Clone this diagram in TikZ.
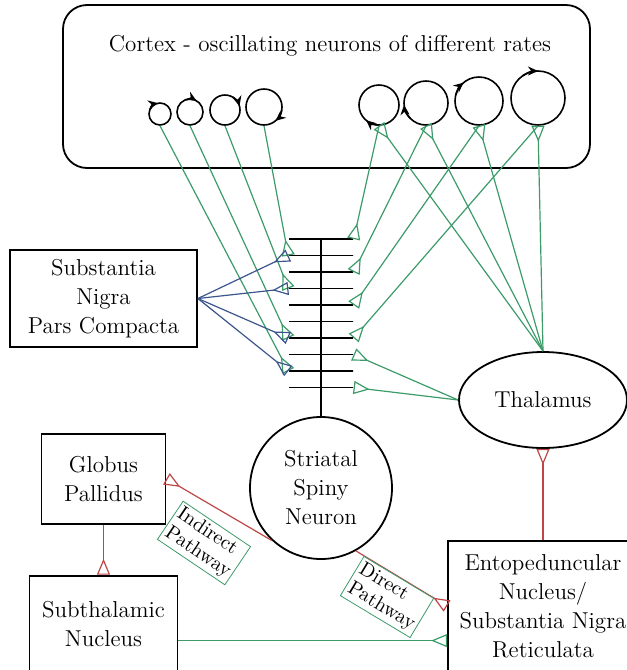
\documentclass[tikz,border=0pt]{standalone}
\usetikzlibrary{shapes.geometric,arrows.meta,positioning}
\definecolor{excgreen}{RGB}{60,155,105}
\definecolor{dopblue}{RGB}{60,85,140}
\definecolor{inhred}{RGB}{190,70,70}

\begin{document}
\begin{tikzpicture}[
    x=0.5pt, y=-0.5pt,
    every node/.style={font=\fontsize{11.5}{14.5}\selectfont},
    box/.style={rectangle, draw, line width=0.9pt, align=center, inner sep=0pt},
    osc/.style={circle, draw, line width=0.8pt, inner sep=0pt},
    bar/.style={rectangle, draw, line width=0.7pt, minimum width=32pt, minimum height=0pt, inner sep=0pt},
    phase/.style={-{Stealth[length=5pt, width=4.5pt]}, line width=0.8pt},
    excite/.style={-{Triangle[open, reversed, length=8pt, width=6.5pt]}, excgreen, line width=0.6pt},
    dopa/.style={-{Triangle[open, reversed, length=8pt, width=6.5pt]}, dopblue, line width=0.6pt},
    inhib/.style={-{Triangle[open, reversed, length=8pt, width=6.5pt]}, inhred, line width=0.6pt},
    tag/.style={draw=excgreen, line width=0.4pt, fill=white, align=left, inner sep=1.5pt, font=\fontsize{10}{11}\selectfont}
]
    \useasboundingbox (0,0) rectangle (627,670);
    \clip (0,0) rectangle (627,670);

    % Cortex
    \node[box, rounded corners=12pt, minimum width=263.5pt, minimum height=81.5pt] (cortex) at (326.5,86.5) {};
    \node (title) at (330,46) {Cortex - oscillating neurons of different rates};

    % Oscillating neurons
    \node[osc, minimum size=11pt] (c1) at (160,114) {};
    \node[osc, minimum size=13pt] (c2) at (190,112) {};
    \node[osc, minimum size=15pt] (c3) at (225,110) {};
    \node[osc, minimum size=18pt] (c4) at (264,107) {};
    \node[osc, minimum size=20pt] (c5) at (379,105) {};
    \node[osc, minimum size=22pt] (c6) at (426,103) {};
    \node[osc, minimum size=24pt] (c7) at (479,101) {};
    \node[osc, minimum size=27pt] (c8) at (538,98) {};

    % Phase marks
    \draw[phase] ([shift={(150:5.5pt)}]c1.center) arc[start angle=150, end angle=100, radius=5.5pt];
    \draw[phase] ([shift={(110:6.5pt)}]c2.center) arc[start angle=110, end angle=60, radius=6.5pt];
    \draw[phase] ([shift={(60:7.5pt)}]c3.center) arc[start angle=60, end angle=15, radius=7.5pt];
    \draw[phase] ([shift={(-10:9pt)}]c4.center) arc[start angle=-10, end angle=-50, radius=9pt];
    \draw[phase] ([shift={(270:10pt)}]c5.center) arc[start angle=270, end angle=230, radius=10pt];
    \draw[phase] ([shift={(225:11pt)}]c6.center) arc[start angle=225, end angle=185, radius=11pt];
    \draw[phase] ([shift={(165:12pt)}]c7.center) arc[start angle=165, end angle=130, radius=12pt];
    \draw[phase] ([shift={(125:13.5pt)}]c8.center) arc[start angle=125, end angle=90, radius=13.5pt];

    % Striatal neuron and its dendrite
    \node[circle, draw, line width=0.9pt, minimum size=71pt, align=center, inner sep=0pt] (ssn) at (321,488) {Striatal\\Spiny\\Neuron};
    \node[bar] (bar1) at (321,239) {};
    \node[bar] (bar2) at (321,255.5) {};
    \node[bar] (bar3) at (321,272) {};
    \node[bar] (bar4) at (321,288.5) {};
    \node[bar] (bar5) at (321,305) {};
    \node[bar] (bar6) at (321,321.5) {};
    \node[bar] (bar7) at (321,338) {};
    \node[bar] (bar8) at (321,354.5) {};
    \node[bar] (bar9) at (321,371) {};
    \node[bar] (bar10) at (321,387.5) {};
    \draw[line width=0.8pt] (bar1.center) -- (ssn.north);

    % Nuclei
    \node[ellipse, draw, line width=0.9pt, minimum width=84pt, minimum height=48pt, inner sep=0pt] (thal) at (543,400) {Thalamus};
    \node[box, minimum width=93.5pt, minimum height=48.5pt] (snc) at (103.5,298.5) {Substantia\\Nigra\\Pars Compacta};
    \node[box, minimum width=62pt, minimum height=45pt, below=42.5pt of snc] (gp) {Globus\\Pallidus};
    \node[box, minimum width=74pt, minimum height=48pt, below=25pt of gp] (stn) {Subthalamic\\Nucleus};
    \node[box, minimum width=95pt, minimum height=65pt] (ep) at (543,606) {Entopeduncular\\Nucleus/\\Substantia Nigra\\Reticulata};

    % Cortex to striatum
    \draw[excite] (c1.south) -- (bar9.west);
    \draw[excite] (c2.south) -- (bar7.west);
    \draw[excite] (c3.south) -- (bar4.west);
    \draw[excite] (c4.south) -- (bar2.west);
    \draw[excite] (c5.south) -- (bar1.east);
    \draw[excite] (c6.south) -- (bar3.east);
    \draw[excite] (c7.south) -- (bar5.east);
    \draw[excite] (c8.south) -- (bar7.east);

    % Thalamus
    \draw[excite] (thal.north) -- (c5.south);
    \draw[excite] (thal.north) -- (c6.south);
    \draw[excite] (thal.north) -- (c7.south);
    \draw[excite] (thal.north) -- (c8.south);
    \draw[excite] (thal.west) -- (bar8.east);
    \draw[excite] (thal.west) -- (bar10.east);

    % Dopamine
    \draw[dopa] (snc.east) -- (bar2.west);
    \draw[dopa] (snc.east) -- (bar4.west);
    \draw[dopa] (snc.east) -- (bar7.west);
    \draw[dopa] (snc.east) -- (bar9.west);

    % Basal ganglia loops
    \draw[inhib] (ssn.227) -- (gp.east);
    \draw[inhib] (ssn.-61) -- (ep.west);
    \draw[inhib] (gp) -- (stn);
    \draw[inhib] (ep) -- (thal);
    \draw[excite] ([yshift=-8.5pt]stn.east) -- ([yshift=-8.5pt]stn.east -| ep.west);

    % Pathway labels
    \node[tag, rotate=-34] (indir) at (204,543) {Indirect\\Pathway};
    \node[tag, rotate=-31] (dir) at (387,597) {Direct\\Pathway};
\end{tikzpicture}
\end{document}
